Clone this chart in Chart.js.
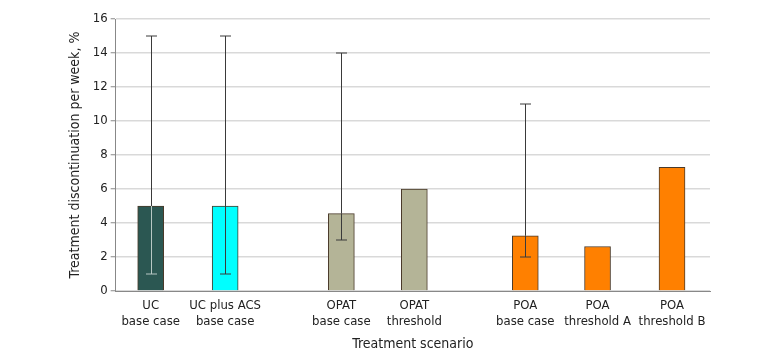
<!DOCTYPE html>
<html>
<head>
<meta charset="utf-8">
<script src="https://cdn.jsdelivr.net/npm/chart.js@4/dist/chart.umd.min.js"></script>
<style>
  html, body { margin: 0; padding: 0; background: #ffffff; }
  #wrap { width: 780px; height: 360px; position: relative; }
</style>
</head>
<body>
<div id="wrap"><canvas id="c" width="780" height="360"></canvas></div>
<script>
// ---- data ----
const categories = [
  ["UC", "base case"],
  ["UC plus ACS", "base case"],
  ["OPAT", "base case"],
  ["OPAT", "threshold"],
  ["POA", "base case"],
  ["POA", "threshold A"],
  ["POA", "threshold B"]
];
const positions = [0, 1, 2.56, 3.54, 5.03, 6, 7];
const values = [5.0, 5.0, 4.55, 6.0, 3.25, 2.62, 7.28];
const errLow = [1, 1, 3, null, 2, null, null];
const errHigh = [15, 15, 14, null, 11, null, null];
const barColors = ["#2B5752", "#00FFFF", "#B4B497", "#B4B497", "#FF8000", "#FF8000", "#FF8000"];
const yTicks = [0, 2, 4, 6, 8, 10, 12, 14, 16];

const FONT = "'Liberation Sans Narrow', 'DejaVu Sans Condensed', 'Roboto', sans-serif";

const errorBars = {
  id: 'errorBars',
  afterDatasetsDraw(chart) {
    const ctx = chart.ctx;
    const xs = chart.scales.x, ys = chart.scales.y;
    ctx.save();
    ctx.lineWidth = 1;
    for (let i = 0; i < values.length; i++) {
      if (errLow[i] == null) continue;
      const x = Math.round(xs.getPixelForValue(positions[i])) + 0.5;
      const yl = ys.getPixelForValue(errLow[i]);
      const yh = ys.getPixelForValue(errHigh[i]);
      const yv = ys.getPixelForValue(values[i]);
      const cap = 5.5;
      const dark = (i === 0);
      ctx.strokeStyle = '#3a3a3a';
      ctx.beginPath();
      ctx.moveTo(x, yh); ctx.lineTo(x, yv);
      ctx.moveTo(x - cap, yh); ctx.lineTo(x + cap, yh);
      ctx.stroke();
      ctx.strokeStyle = dark ? '#b8c8c4' : '#3a3a3a';
      ctx.beginPath();
      ctx.moveTo(x, yv); ctx.lineTo(x, yl);
      ctx.moveTo(x - cap, yl); ctx.lineTo(x + cap, yl);
      ctx.stroke();
    }
    ctx.restore();
  }
};

new Chart(document.getElementById('c'), {
  type: 'bar',
  data: {
    datasets: [{
      data: positions.map((p, i) => ({ x: p, y: values[i] })),
      backgroundColor: barColors,
      borderColor: '#4a3a2a',
      borderWidth: 1,
      borderSkipped: 'bottom',
      barThickness: 26
    }]
  },
  options: {
    responsive: false,
    animation: false,
    devicePixelRatio: 1,
    layout: { padding: { left: 63, right: 70, top: 19, bottom: 3 } },
    plugins: { legend: { display: false }, tooltip: { enabled: false } },
    scales: {
      x: {
        type: 'linear',
        offset: false,
        min: -0.47,
        max: 7.51,
        afterBuildTicks(axis) { axis.ticks = positions.map(v => ({ value: v })); },
        ticks: {
          autoSkip: false,
          maxRotation: 0,
          color: '#222',
          font: { family: FONT, size: 13 },
          padding: 7,
          callback: (v, i) => categories[i]
        },
        grid: { display: true, offset: false, drawOnChartArea: false, drawTicks: false },
        border: { display: true, color: '#888', width: 1 },
        title: {
          display: true,
          text: 'Treatment scenario',
          color: '#222',
          font: { family: FONT, size: 14 },
          padding: { top: 0 }
        }
      },
      y: {
        min: 0,
        max: 16,
        afterBuildTicks(axis) { axis.ticks = yTicks.map(v => ({ value: v })); },
        ticks: {
          color: '#222',
          font: { family: FONT, size: 13 },
          padding: 3
        },
        grid: { color: '#d9d9d9', lineWidth: 1.5, tickLength: 5, tickColor: '#888', tickWidth: 1 },
        border: { display: true, color: '#888', width: 1 },
        title: {
          display: true,
          text: 'Treatment discontinuation per week, %',
          color: '#222',
          font: { family: FONT, size: 14 },
          padding: { bottom: 6 }
        }
      }
    }
  },
  plugins: [errorBars]
});
</script>
</body>
</html>
